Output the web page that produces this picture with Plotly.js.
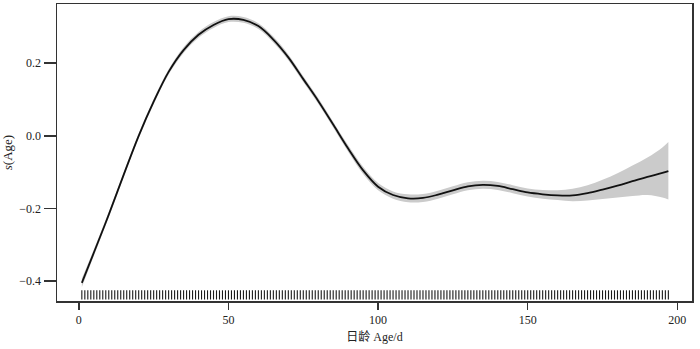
<!DOCTYPE html>
<html>
<head>
<meta charset="utf-8">
<script src="https://cdn.plot.ly/plotly-3.0.1.min.js"></script>
<style>html,body{margin:0;padding:0;background:#fff;}#chart{width:700px;height:349px;}</style>
</head>
<body>
<div id="chart"></div>
<script>
// Smooth term s(Age) and its confidence band
const age = [1, 5, 10, 15, 20, 25, 30, 35, 40, 45, 50, 55, 60, 65, 70, 75, 80, 85, 90, 95,
  100, 105, 110, 115, 120, 125, 130, 135, 140, 145, 150, 155, 160, 165, 170, 175, 180, 185, 190, 195, 197];
const fit = [-0.405, -0.322, -0.217, -0.107, 0.000, 0.094, 0.176, 0.236, 0.278, 0.305, 0.321, 0.319,
  0.302, 0.265, 0.216, 0.156, 0.096, 0.031, -0.035, -0.095,
  -0.140, -0.163, -0.172, -0.171, -0.162, -0.150, -0.139, -0.135, -0.138, -0.147, -0.156, -0.161,
  -0.164, -0.164, -0.158, -0.148, -0.137, -0.125, -0.113, -0.102, -0.097];
const upper = [-0.393, -0.313, -0.210, -0.100, 0.007, 0.101, 0.183, 0.244, 0.286, 0.313, 0.329, 0.327,
  0.310, 0.273, 0.224, 0.164, 0.104, 0.039, -0.026, -0.085,
  -0.130, -0.153, -0.161, -0.160, -0.151, -0.139, -0.128, -0.124, -0.127, -0.136, -0.145, -0.149,
  -0.150, -0.146, -0.136, -0.121, -0.103, -0.082, -0.060, -0.032, -0.017];
const lower = [-0.417, -0.331, -0.224, -0.114, -0.007, 0.087, 0.169, 0.228, 0.270, 0.297, 0.313, 0.311,
  0.294, 0.257, 0.208, 0.148, 0.088, 0.023, -0.044, -0.105,
  -0.150, -0.173, -0.183, -0.182, -0.173, -0.161, -0.150, -0.146, -0.149, -0.158, -0.167, -0.173,
  -0.177, -0.180, -0.178, -0.174, -0.170, -0.166, -0.163, -0.170, -0.175];
// Observed ages shown as the rug along the bottom
const rugAges = [1,2,3,4,5,6,7,8,9,10,11,12,13,14,15,16,17,18,19,20,21,22,23,24,25,26,27,28,29,30,
  31,32,33,34,35,36,37,38,39,40,41,42,43,44,45,46,47,48,49,50,51,52,53,54,55,56,57,58,59,60,
  61,62,63,64,65,66,67,68,69,70,71,72,73,74,75,76,77,78,79,80,81,82,83,84,85,86,87,88,89,90,
  91,92,93,94,95,96,97,98,99,100,101,102,103,104,105,106,107,108,109,110,111,112,113,114,115,116,117,118,119,120,
  121,122,123,124,125,126,127,128,129,130,131,132,133,134,135,136,137,138,139,140,141,142,143,144,145,146,147,148,149,150,
  151,152,153,154,155,156,157,158,159,160,161,162,163,164,165,166,167,168,169,170,171,172,173,174,175,176,177,178,179,180,
  181,182,183,184,185,186,187,188,189,190,191,192,193,194,195,196,197];
const xTicks = [0, 50, 100, 150, 200];
const yTicks = [-0.4, -0.2, 0.0, 0.2];
const xTitle = '日龄 Age/d';
const yTitle = '<i>s</i>(Age)';

const serif = 'Liberation Serif, Times New Roman, Noto Sans CJK SC, serif';

const traces = [
  {x: age, y: upper, type: 'scatter', mode: 'lines', line: {width: 0, shape: 'spline'}, hoverinfo: 'skip', showlegend: false},
  {x: age, y: lower, type: 'scatter', mode: 'lines', line: {width: 0, shape: 'spline'}, fill: 'tonexty',
   fillcolor: '#cbcbcb', hoverinfo: 'skip', showlegend: false},
  {x: age, y: fit, type: 'scatter', mode: 'lines', line: {color: '#111', width: 1.8, shape: 'spline'}, showlegend: false}
];

const shapes = rugAges.map(a => ({
  type: 'line', xref: 'x', yref: 'paper', x0: a, x1: a, y0: 0.005, y1: 0.036,
  line: {color: '#1a1a1a', width: 1.1}
}));

const layout = {
  width: 700, height: 349,
  margin: {l: 57, r: 8, t: 4, b: 48},
  paper_bgcolor: '#fff', plot_bgcolor: '#fff',
  font: {family: serif, size: 12, color: '#222'},
  showlegend: false,
  shapes: shapes,
  xaxis: {
    range: [-7.3, 204.9], tickvals: xTicks, ticktext: xTicks.map(String),
    showgrid: false, zeroline: false, showline: true, mirror: true,
    linecolor: '#333', linewidth: 1.5, ticks: 'outside', ticklen: 7, tickwidth: 1.5, tickcolor: '#333',
    tickfont: {family: serif, size: 12, color: '#222'},
    title: {text: xTitle, font: {family: serif, size: 12, color: '#222'}, standoff: 6}
  },
  yaxis: {
    range: [-0.4547, 0.3628], tickvals: yTicks, tickformat: '.1f',
    showgrid: false, zeroline: false, showline: true, mirror: true,
    linecolor: '#333', linewidth: 1.5, ticks: 'outside', ticklen: 12, tickwidth: 1.5, tickcolor: '#333',
    tickfont: {family: serif, size: 12, color: '#222'},
    title: {text: yTitle, font: {family: serif, size: 13, color: '#222'}, standoff: 4}
  }
};

Plotly.newPlot('chart', traces, layout, {displayModeBar: false, staticPlot: true});
</script>
</body>
</html>
